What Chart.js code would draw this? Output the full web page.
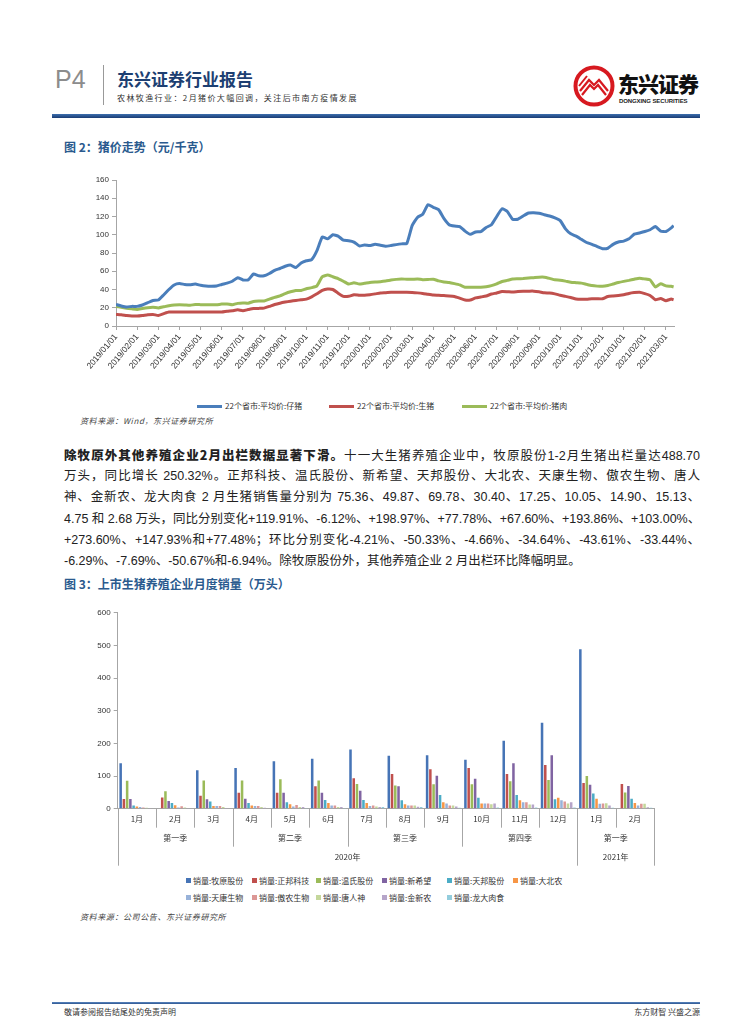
<!DOCTYPE html>
<html>
<head>
<meta charset="utf-8">
<script src="https://cdn.jsdelivr.net/npm/chart.js@4.4.1/dist/chart.umd.min.js"></script>
<style>
  body { margin: 0; background: #fff; font-family: "Liberation Sans", "Noto Sans CJK SC", sans-serif; color: #222; }
  .page { position: relative; width: 755px; height: 1024px; overflow: hidden; }
  .abs { position: absolute; white-space: nowrap; }
  .p4 { left: 55px; top: 67px; font-size: 25px; line-height: 25px; color: #8c8c8c; }
  .vbar { left: 103px; top: 65px; width: 1px; height: 40px; background: #999; }
  .brand { left: 117px; top: 70px; font-size: 17px; line-height: 17px; font-weight: bold; color: #1d3f72; font-family: "Noto Sans CJK SC"; }
  .sub { left: 117px; top: 94px; font-size: 8px; line-height: 8px; letter-spacing: 1.4px; color: #333; font-family: "Noto Sans CJK SC"; }
  .logo-cn { left: 618px; top: 73px; font-size: 21px; line-height: 21px; font-weight: 900; color: #111; font-family: "Noto Sans CJK SC"; letter-spacing: -1px; }
  .logo-en { left: 619px; top: 98px; font-size: 6px; line-height: 6px; font-weight: bold; color: #222; letter-spacing: -.1px; }
  .rule { left: 52px; top: 114px; width: 648px; height: 4px; background: linear-gradient(#3d6fae, #1a3c73); }
  .fig { left: 64px; font-size: 12px; line-height: 12px; font-weight: bold; color: #2a5a8e; font-family: "Noto Sans CJK SC"; }
  .src { left: 80px; font-size: 8px; line-height: 8px; font-style: italic; color: #444; font-family: "Noto Sans CJK SC"; letter-spacing: .6px; }
  .para { left: 64px; width: 636px; font-size: 12.5px; line-height: 14px; text-align: justify; text-align-last: justify; }
  .para.last { text-align-last: left; }
  .para b { font-family: "Noto Sans CJK SC"; font-weight: 900; }
  .lg { font-size: 8px; line-height: 8px; color: #333; font-family: "Noto Sans CJK SC"; }
  .foot-rule { left: 52px; top: 1002px; width: 648px; height: 2px; background: linear-gradient(#5b87c0, #2c5590); }
  .foot { top: 1008px; font-size: 8px; line-height: 8px; color: #333; font-family: "Noto Sans CJK SC"; }
  canvas { position: absolute; }
</style>
</head>
<body>
<div class="page" id="page">
  <div class="abs p4">P4</div>
  <div class="abs vbar"></div>
  <div class="abs brand">东兴证券行业报告</div>
  <div class="abs sub">农林牧渔行业：2月猪价大幅回调，关注后市南方疫情发展</div>
  <svg class="abs" style="left:572px;top:64px" width="44" height="44" viewBox="0 0 44 44">
    <circle cx="22" cy="22" r="18.5" fill="#fff" stroke="#d71920" stroke-width="4"/>
    <path d="M8 27 L17 16 L22 21 L27 16 L36 27" fill="none" stroke="#d71920" stroke-width="2.2"/>
    <path d="M10 31 L18 21 L22 25 L26 21 L34 31" fill="none" stroke="#d71920" stroke-width="2.2"/>
    <path d="M7 22 L15 12" fill="none" stroke="#d71920" stroke-width="2"/>
  </svg>
  <div class="abs logo-cn">东兴证券</div>
  <div class="abs logo-en">DONGXING SECURITIES</div>
  <div class="abs rule"></div>

  <div class="abs fig" style="top:141px">图 2：猪价走势（元/千克）</div>
  <canvas id="priceChart" width="640" height="235" style="left:60px;top:165px"></canvas>
  <div id="priceLegend"></div>
  <div class="abs src" style="top:417px">资料来源：Wind，东兴证券研究所</div>

  <div class="abs para" style="top:448px"><b>除牧原外其他养殖企业2月出栏数据显著下滑。</b>十一大生猪养殖企业中，牧原股份1-2月生猪出栏量达488.70</div>
  <div class="abs para" style="top:469px">万头，同比增长 250.32%。正邦科技、温氏股份、新希望、天邦股份、大北农、天康生物、傲农生物、唐人</div>
  <div class="abs para" style="top:490px">神、金新农、龙大肉食 2 月生猪销售量分别为 75.36、49.87、69.78、30.40、17.25、10.05、14.90、15.13、</div>
  <div class="abs para" style="top:512px">4.75 和 2.68 万头，同比分别变化+119.91%、-6.12%、+198.97%、+77.78%、+67.60%、+193.86%、+103.00%、</div>
  <div class="abs para" style="top:533px">+273.60%、+147.93%和+77.48%；环比分别变化-4.21%、-50.33%、-4.66%、-34.64%、-43.61%、-33.44%、</div>
  <div class="abs para last" style="top:554px">-6.29%、-7.69%、-50.67%和-6.94%。除牧原股份外，其他养殖企业 2 月出栏环比降幅明显。</div>

  <div class="abs fig" style="top:578px">图 3：上市生猪养殖企业月度销量（万头）</div>
  <canvas id="salesChart" width="620" height="272" style="left:60px;top:598px"></canvas>
  <div id="salesLegend"></div>
  <div class="abs src" style="top:913px">资料来源：公司公告、东兴证券研究所</div>

  <div class="abs foot-rule"></div>
  <div class="abs foot" style="left:64px">敬请参阅报告结尾处的免责声明</div>
  <div class="abs foot" style="right:55px">东方财智 兴盛之源</div>
</div>

<script>
// ---------- 图2 猪价走势 ----------
const monthLabels = ['2019/01/01','2019/02/01','2019/03/01','2019/04/01','2019/05/01','2019/06/01','2019/07/01',
  '2019/08/01','2019/09/01','2019/10/01','2019/11/01','2019/12/01','2020/01/01','2020/02/01','2020/03/01',
  '2020/04/01','2020/05/01','2020/06/01','2020/07/01','2020/08/01','2020/09/01','2020/10/01','2020/11/01',
  '2020/12/01','2021/01/01','2021/02/01','2021/03/01']

// sample positions in months after 2019/01/01 (weekly-ish)
const samplePos = []
for (let i = 0; i <= 105; i++) samplePos.push(i * 0.25)
samplePos.push(26.36)

const pigletPrice = [23.6,22,20.8,21.5,21.5,23,25.5,28,28.5,34,
  40,45,46.5,45.5,45.3,46,44.6,43.8,43.6,43.8,
  45.5,47,49,53,50.5,50.5,57,55,55,57.5,
  61,63,65.5,66.8,64,69,71.5,72.7,82.5,97.5,
  95.5,100,98.5,94,93.5,92,87.8,88.7,88.2,89.5,
  88.5,87.4,88.2,89.2,90,90.5,110,119,122.5,133,
  130,127.5,118,111,109.5,109,104,100.5,103,103.5,
  108,111,120,128.5,125.5,117,117,120.5,123.8,124.2,
  123.5,122,120.5,118.5,115.5,106.5,101,98.5,95,91.5,
  89.5,87,84.7,85.2,89.5,92,93,95.5,100.7,102,
  103.5,105.5,109,104,103.5,107.5,110]
const hogPrice = [12.7,12.4,11.5,10.9,10.9,11.5,12.3,12.7,11.6,13.5,
  15.3,15.3,15.3,15.3,15.3,15.3,15.3,15.3,15.3,15.3,
  15.3,16.2,16.8,17.7,16.8,18,19.1,19.3,19.6,21.5,
  23.5,25,26.2,27.2,28,28.7,29.5,32,35.3,39,
  40.5,40,36,32.5,32.5,34.2,33.7,33.7,34.3,35.2,
  36.2,36.5,36.9,37,37,37,36.7,36.3,35.7,34.8,
  34,33.7,33.3,33,32.4,30.5,28.5,28.5,30.8,31.8,
  32.9,35,36.2,37.8,37.6,37.2,37.8,38.2,38.2,38.2,
  37.5,36.4,36.2,35.2,33.7,32.5,31.2,29.6,29.2,29.3,
  29.8,29.8,29.8,32.4,33,33.5,34.2,35.7,36.6,37,
  35.5,33.5,28.7,30.2,27.8,29.5,28.7]
const porkPrice = [21.5,20.5,19.5,18.8,18.2,19.2,20,20.5,19.8,21,
  22.2,23,23.2,23,22.7,23.6,23.4,23.3,23.3,23.3,
  24,24.2,23.3,24.8,25.3,25,26.8,27.3,27.5,29.5,
  31.3,33,35.5,37.5,39,39,40.8,42,44,54,
  55.8,54,52,49,46,47.4,46,46.8,47.7,48.2,
  48.6,49.3,50.3,51.1,51.6,51.2,51.2,51.6,50.8,51,
  51.3,49.5,48.3,47.6,46.4,45,42.5,42.5,42.5,42.5,
  43,44.2,46.2,48.8,50,51.4,51.7,52,52.5,53,
  53.5,53.5,52.2,50.6,50.2,49.2,48,47.5,47,45.6,
  44.3,43.7,43.5,44.4,46,47.6,48.9,50,51.3,52.4,
  51.6,50.5,42.8,46.2,44,43.5,42.8]

const priceNames = ['22个省市:平均价:仔猪', '22个省市:平均价:生猪', '22个省市:平均价:猪肉']
const priceColors = ['#4a7ebb', '#c0504d', '#9bbb59']
const priceSeries = [pigletPrice, hogPrice, porkPrice]

Chart.defaults.font.family = '"Liberation Sans","Noto Sans CJK SC",sans-serif'
Chart.defaults.color = '#333'

const axisGrey = '#a6a6a6'

new Chart('priceChart', {
  type: 'line',
  data: {
    datasets: priceSeries.map((vals, k) => ({
      label: priceNames[k],
      data: vals.map((v, i) => ({ x: samplePos[i], y: v })),
      borderColor: priceColors[k],
      borderWidth: 3,
      pointRadius: 0,
      tension: 0.15
    }))
  },
  options: {
    responsive: false,
    animation: false,
    layout: { padding: { top: 15, right: 26, left: 0, bottom: 0 } },
    plugins: { legend: { display: false }, tooltip: { enabled: false } },
    scales: {
      x: {
        type: 'linear',
        min: 0,
        max: 26.38,
        afterBuildTicks: (s) => { s.ticks = monthLabels.map((_, i) => ({ value: i })) },
        afterFit: (s) => { s.height = 235 - 15 - 146 },
        ticks: {
          autoSkip: false,
          minRotation: 50,
          maxRotation: 50,
          padding: 2,
          font: { size: 8.5 },
          callback: (v) => monthLabels[v]
        },
        grid: { drawOnChartArea: false, tickLength: 4, color: axisGrey },
        border: { color: axisGrey }
      },
      y: {
        min: 0,
        max: 160,
        afterFit: (s) => { s.width = 56 },
        ticks: { stepSize: 20, font: { size: 8 }, padding: 3 },
        grid: { drawOnChartArea: false, tickLength: 4, color: axisGrey },
        border: { color: axisGrey }
      }
    }
  }
})

// legend for 图2
const priceLegendX = [197, 329, 462]
const priceLegend = document.getElementById('priceLegend')
priceNames.forEach((name, k) => {
  const line = document.createElement('div')
  line.className = 'abs'
  line.style.cssText = `left:${priceLegendX[k]}px;top:405px;width:25px;height:3px;background:${priceColors[k]}`
  priceLegend.appendChild(line)
  const txt = document.createElement('div')
  txt.className = 'abs lg'
  txt.style.cssText = `left:${priceLegendX[k] + 28}px;top:402px`
  txt.textContent = name
  priceLegend.appendChild(txt)
})

// ---------- 图3 月度销量 ----------
const months = ['1月','2月','3月','4月','5月','6月','7月','8月','9月','10月','11月','12月','1月','2月']
const quarterLabels = ['第一季','第二季','第三季','第四季','第一季']
const quarterSpans = [3, 3, 3, 3, 2]
const yearLabels = ['2020年','2021年']
const yearSpans = [12, 2]

const companies = ['销量:牧原股份','销量:正邦科技','销量:温氏股份','销量:新希望','销量:天邦股份','销量:大北农',
  '销量:天康生物','销量:傲农生物','销量:唐人神','销量:金新农','销量:龙大肉食']
const companyColors = ['#4674b6','#c0504d','#9bbb59','#8064a2','#4bacc6','#f79646',
  '#98b2d9','#dc9795','#c4d79b','#b6a5c9','#93cddd']

const muyuan   = [139, null, 118, 124.5, 145, 153, 181.6, 162, 164, 150, 208, 263, 487.8, null]
const zhengbang = [29.6, 34.27, 40, 49, 49, 69, 93, 106, 121, 124.5, 106, 133.7, 78.67, 75.36]
const wens     = [85.7, 53.12, 86, 86, 90, 86, 75.5, 71.4, 74.5, 74.5, 83.7, 87.8, 100.4, 49.87]
const newhope  = [29.6, 23.34, 28.6, 30.6, 49, 49, 55, 68.4, 101, 92, 139, 164, 73.19, 69.78]
const tianbang = [10, 17.1, 22.4, 17.3, 20, 26.5, 26.5, 25.5, 42, 33.7, 42, 28.6, 46.51, 30.40]
const dbn      = [7, 10.29, 8, 10, 14, 17.3, 17.3, 14, 19.4, 16.3, 25.5, 33.7, 30.59, 17.25]
const tiankang = [5, 3.42, 8, 8, 7, 10, 8, 10, 16.3, 16.3, 19.4, 25.5, 15.1, 10.05]
const aonong   = [4, 7.34, 8, 8, 11, 10, 10, 10, 10, 16.3, 19.4, 22.4, 15.9, 14.90]
const tangrenshen = [3, 4.05, 5, 5, 5, 5, 7, 10, 10, 14, 13, 16.3, 16.39, 15.13]
const jinxinnong = [2, 1.92, 2, 3, 5, 5, 5, 6, 7, 16.3, 13, 19.4, 9.63, 4.75]
const longda   = [1.5, 1.51, 1, 1, 2, 2, 5, 5, 3, 4, 4, 4, 2.88, 2.68]
const salesSeries = [muyuan, zhengbang, wens, newhope, tianbang, dbn, tiankang, aonong, tangrenshen, jinxinnong, longda]

const rowH = 19
const groupAxis = {
  id: 'groupAxis',
  afterDraw(chart) {
    const ctx = chart.ctx
    const xs = chart.scales.x
    const y0 = xs.top
    const n = months.length
    const w = (xs.right - xs.left) / n
    const cum = (arr) => { let s = 0; return arr.map(v => (s += v)) }
    const qEnds = cum(quarterSpans)
    const yEnds = cum(yearSpans)
    ctx.save()
    ctx.strokeStyle = axisGrey
    ctx.lineWidth = 1
    for (let i = 0; i <= n; i++) {
      let level = 1
      if (i === 0 || yEnds.includes(i)) level = 3
      else if (qEnds.includes(i)) level = 2
      const x = Math.round(xs.left + i * w) + 0.5
      ctx.beginPath()
      ctx.moveTo(x, y0)
      ctx.lineTo(x, y0 + rowH * level)
      ctx.stroke()
    }
    ctx.fillStyle = '#333'
    ctx.font = '8px "Noto Sans CJK SC"'
    ctx.textAlign = 'center'
    ctx.textBaseline = 'middle'
    months.forEach((m, i) => ctx.fillText(m, xs.getPixelForValue(i), y0 + rowH * 0.5 + 1))
    let start = 0
    quarterLabels.forEach((q, k) => {
      const mid = xs.left + (start + quarterSpans[k] / 2) * w
      ctx.fillText(q, mid, y0 + rowH * 1.5 + 1)
      start += quarterSpans[k]
    })
    start = 0
    yearLabels.forEach((yl, k) => {
      const mid = xs.left + (start + yearSpans[k] / 2) * w
      ctx.fillText(yl, mid, y0 + rowH * 2.5 + 1)
      start += yearSpans[k]
    })
    ctx.restore()
  }
}

new Chart('salesChart', {
  type: 'bar',
  data: {
    labels: months,
    datasets: salesSeries.map((vals, k) => ({
      label: companies[k],
      data: vals,
      backgroundColor: companyColors[k],
      categoryPercentage: 0.93,
      barPercentage: 0.78
    }))
  },
  plugins: [groupAxis],
  options: {
    responsive: false,
    animation: false,
    layout: { padding: { top: 14.7, right: 26, left: 0, bottom: 0 } },
    plugins: { legend: { display: false }, tooltip: { enabled: false } },
    scales: {
      x: {
        afterFit: (s) => { s.height = 272 - 14.7 - 196 },
        ticks: { display: false },
        grid: { display: false },
        border: { color: axisGrey }
      },
      y: {
        min: 0,
        max: 600,
        afterFit: (s) => { s.width = 57.7 },
        ticks: { stepSize: 100, font: { size: 8 }, padding: 3 },
        grid: { drawOnChartArea: false, tickLength: 4, color: axisGrey },
        border: { color: axisGrey }
      }
    }
  }
})

// legend for 图3 (two rows of six)
const legendCols = [186, 252, 316, 382, 447, 513]
const legendRows = [877, 894]
const salesLegend = document.getElementById('salesLegend')
companies.forEach((name, k) => {
  const x = legendCols[k % 6]
  const y = legendRows[Math.floor(k / 6)]
  const box = document.createElement('div')
  box.className = 'abs'
  box.style.cssText = `left:${x}px;top:${y + 1}px;width:5px;height:5px;background:${companyColors[k]}`
  salesLegend.appendChild(box)
  const txt = document.createElement('div')
  txt.className = 'abs lg'
  txt.style.cssText = `left:${x + 7}px;top:${y}px`
  txt.textContent = name
  salesLegend.appendChild(txt)
})
</script>
</body>
</html>
